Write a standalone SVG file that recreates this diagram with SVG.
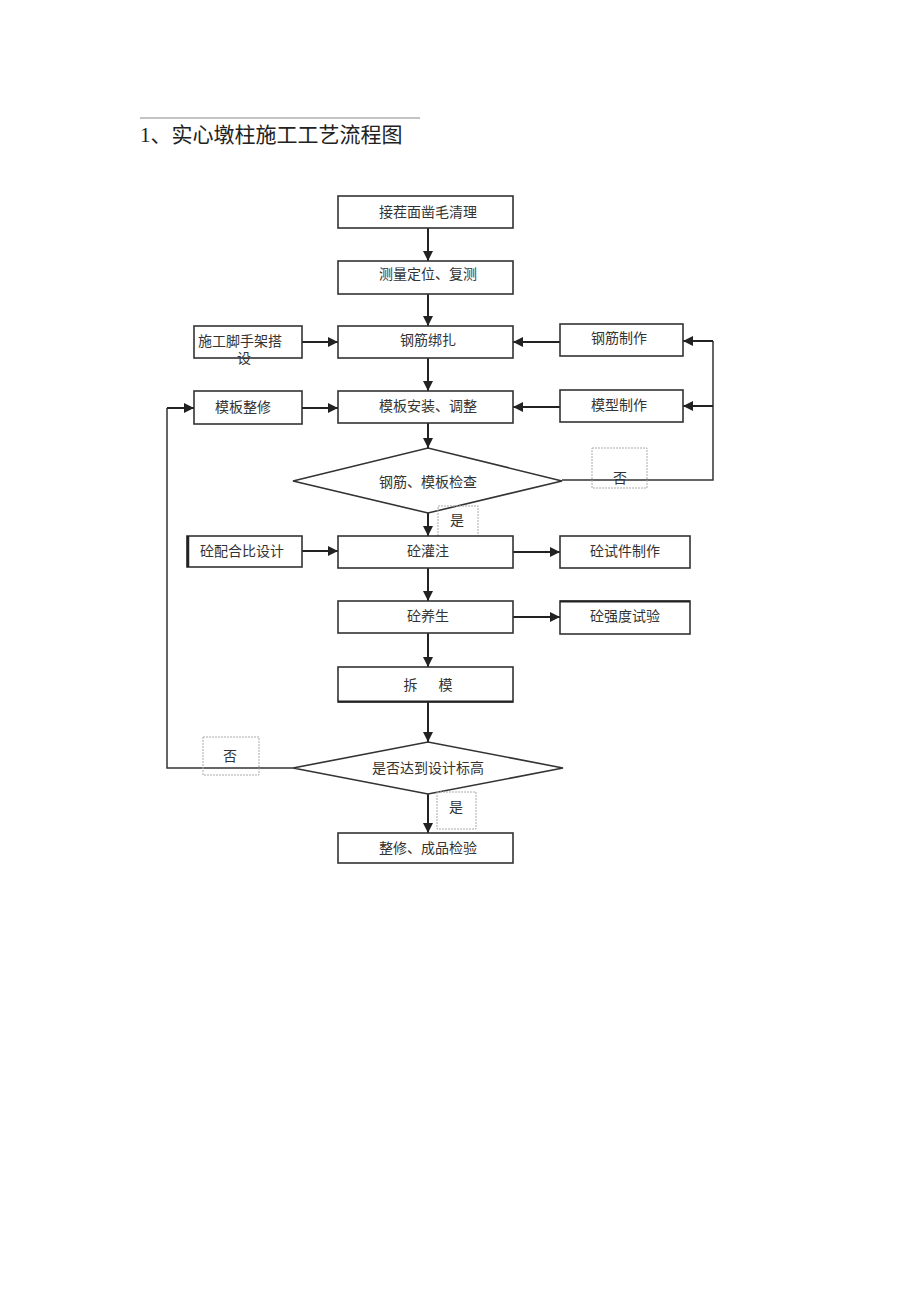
<svg xmlns="http://www.w3.org/2000/svg" width="920" height="1303" viewBox="0 0 920 1303">
<style>
.b{fill:#fff;stroke:#333;stroke-width:1.6}
.t{font-family:"Liberation Serif","Noto Sans CJK SC",serif;font-size:14px;fill:#333;text-anchor:middle}
.c{fill:none;stroke:#222;stroke-width:2}
.l{fill:none;stroke:#333;stroke-width:1.5}
.d{fill:none;stroke:#aaa;stroke-width:1;stroke-dasharray:2 1}
</style>
<defs>
<marker id="a" viewBox="0 0 10 10" refX="10" refY="5" markerWidth="5" markerHeight="5" orient="auto" markerUnits="strokeWidth"><path d="M0,0L10,5L0,10z" fill="#222"/></marker>
</defs>
<rect width="920" height="1303" fill="#fff"/>
<line x1="140" y1="118" x2="420" y2="118" stroke="#888" stroke-width="1"/>
<text x="140" y="142" font-family="Liberation Serif,'Noto Sans CJK SC',serif" font-size="21" fill="#222">1、实心墩柱施工工艺流程图</text>

<g id="connectors">
<line class="c" x1="428" y1="228" x2="428" y2="261" marker-end="url(#a)"/>
<line class="c" x1="428" y1="294" x2="428" y2="326" marker-end="url(#a)"/>
<line class="c" x1="428" y1="358" x2="428" y2="391" marker-end="url(#a)"/>
<line class="c" x1="428" y1="423" x2="428" y2="448" marker-end="url(#a)"/>
<line class="c" x1="428" y1="513" x2="428" y2="536" marker-end="url(#a)"/>
<line class="c" x1="428" y1="568" x2="428" y2="601" marker-end="url(#a)"/>
<line class="c" x1="428" y1="633" x2="428" y2="667" marker-end="url(#a)"/>
<line class="c" x1="428" y1="702" x2="428" y2="742" marker-end="url(#a)"/>
<line class="c" x1="428" y1="794" x2="428" y2="833" marker-end="url(#a)"/>
<line class="c" x1="302" y1="342" x2="338" y2="342" marker-end="url(#a)"/>
<line class="c" x1="302" y1="408" x2="338" y2="408" marker-end="url(#a)"/>
<line class="c" x1="560" y1="342" x2="513" y2="342" marker-end="url(#a)"/>
<line class="c" x1="560" y1="407" x2="513" y2="407" marker-end="url(#a)"/>
<line class="c" x1="302" y1="551" x2="338" y2="551" marker-end="url(#a)"/>
<line class="c" x1="513" y1="552" x2="560" y2="552" marker-end="url(#a)"/>
<line class="c" x1="513" y1="617" x2="560" y2="617" marker-end="url(#a)"/>
<polyline class="l" points="562,480 713,480 713,341"/>
<line class="c" x1="713" y1="341" x2="683" y2="341" marker-end="url(#a)"/>
<line class="c" x1="713" y1="406" x2="683" y2="406" marker-end="url(#a)"/>
<polyline class="l" points="293,768 167,768 167,408"/>
<line class="c" x1="167" y1="408" x2="194" y2="408" marker-end="url(#a)"/>
</g>

<g id="n1"><rect class="b" x="338" y="196" width="175" height="32"/><text class="t" x="428" y="217">接茬面凿毛清理</text></g>
<g id="n2"><rect class="b" x="338" y="261" width="175" height="33"/><text class="t" x="428" y="279">测量定位、复测</text></g>
<g id="n3"><rect class="b" x="338" y="326" width="175" height="32"/><text class="t" x="428" y="345">钢筋绑扎</text></g>
<g id="n4"><rect class="b" x="194" y="326" width="108" height="32"/><text class="t" x="240" y="346">施工脚手架搭</text><text class="t" x="244" y="363">设</text></g>
<g id="n5"><rect class="b" x="560" y="324" width="123" height="32"/><text class="t" x="619" y="343">钢筋制作</text></g>
<g id="n6"><rect class="b" x="338" y="391" width="175" height="32"/><text class="t" x="428" y="411">模板安装、调整</text></g>
<g id="n7"><rect class="b" x="194" y="391" width="108" height="33"/><text class="t" x="243" y="412">模板整修</text></g>
<g id="n8"><rect class="b" x="560" y="390" width="123" height="32"/><text class="t" x="619" y="410">模型制作</text></g>
<g id="n9"><polygon class="b" points="293,481 428,448 562,481 428,513"/><text class="t" x="428" y="487">钢筋、模板检查</text></g>
<g id="lbl1"><rect class="d" x="592" y="448" width="55" height="40"/><text class="t" x="620" y="483">否</text></g>
<g id="lbl2"><rect class="d" x="438" y="506" width="40" height="32"/><text class="t" x="457" y="525">是</text></g>
<g id="n10"><rect class="b" x="338" y="536" width="175" height="32"/><text class="t" x="428" y="556">砼灌注</text></g>
<g id="n11"><rect class="b" x="187" y="536" width="115" height="31"/><line x1="188" y1="536" x2="188" y2="567" stroke="#222" stroke-width="2.5"/><text class="t" x="242" y="556">砼配合比设计</text></g>
<g id="n12"><rect class="b" x="560" y="536" width="130" height="32"/><text class="t" x="625" y="556">砼试件制作</text></g>
<g id="n13"><rect class="b" x="338" y="601" width="175" height="32"/><text class="t" x="428" y="621">砼养生</text></g>
<g id="n14"><rect class="b" x="560" y="601" width="130" height="33"/><line x1="560" y1="601.5" x2="690" y2="601.5" stroke="#222" stroke-width="2"/><text class="t" x="625" y="621">砼强度试验</text></g>
<g id="n15"><rect class="b" x="338" y="667" width="175" height="35"/><line x1="338" y1="701.5" x2="513" y2="701.5" stroke="#222" stroke-width="2"/><text class="t" x="428" y="690" xml:space="preserve">拆      模</text></g>
<g id="n16"><polygon class="b" points="293,768 428,742 563,768 428,794"/><text class="t" x="428" y="773">是否达到设计标高</text></g>
<g id="lbl3"><rect class="d" x="203" y="737" width="56" height="38"/><text class="t" x="230" y="761">否</text></g>
<g id="lbl4"><rect class="d" x="437" y="792" width="39" height="37"/><text class="t" x="456" y="812">是</text></g>
<g id="n17"><rect class="b" x="338" y="833" width="175" height="30"/><text class="t" x="428" y="853">整修、成品检验</text></g>
</svg>
